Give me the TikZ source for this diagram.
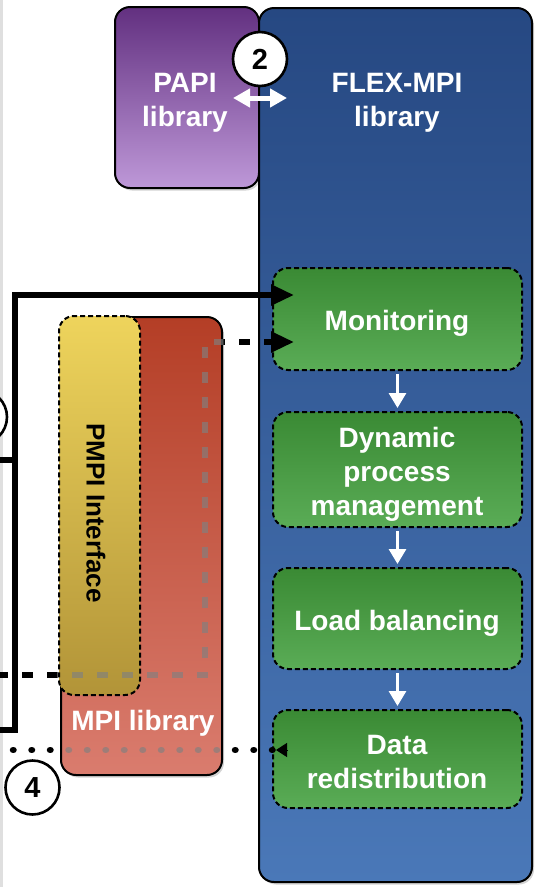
\documentclass[tikz,border=0pt]{standalone}
\usepackage{fontspec}
\setmainfont{Liberation Sans}
\usetikzlibrary{arrows.meta,calc,shadows}

\definecolor{papiTop}{RGB}{98,48,128}
\definecolor{papiBot}{RGB}{190,152,216}
\definecolor{flexTop}{RGB}{38,72,130}
\definecolor{flexBot}{RGB}{74,120,184}
\definecolor{stepTop}{RGB}{58,138,52}
\definecolor{stepBot}{RGB}{90,172,86}
\definecolor{mpiTop}{RGB}{180,62,38}
\definecolor{mpiBot}{RGB}{218,124,110}
\definecolor{pmpiTop}{RGB}{238,212,92}
\definecolor{pmpiBot}{RGB}{178,148,56}

\tikzset{
  big/.style={font=\fontsize{28}{34}\selectfont\bfseries, text=white, align=center, inner sep=0pt},
  libbox/.style={draw=black, line width=2pt, rounded corners=15pt, inner sep=0pt,
    drop shadow={shadow xshift=2pt, shadow yshift=-2.5pt, opacity=0.35}},
  stepbox/.style={draw=black, line width=2pt, dash pattern=on 5pt off 3pt,
    rounded corners=15pt, top color=stepTop, bottom color=stepBot,
    minimum width=249pt, inner sep=0pt},
  badge/.style={circle, draw=black, line width=2.6pt, fill=white, minimum size=54pt,
    inner sep=0pt, font=\fontsize{29}{29}\selectfont\bfseries},
  flow/.style={white, line width=3pt, -{Triangle[length=15pt,width=17pt]}},
  wire/.style={line width=5.5pt},
  bigtip/.style={-{Triangle[length=23pt,width=20pt]}},
  dashwire/.style={wire, dash pattern=on 11pt off 14pt, dash phase=3pt},
  dotwire/.style={line width=6.5pt, line cap=round, dash pattern=on 0.5pt off 18pt},
}

\begin{document}
\begin{tikzpicture}[x=1pt,y=-1pt]
\useasboundingbox (0,0) rectangle (538,887);
\clip (0,0) rectangle (538,887);
\fill[gray!25] (0,0) rectangle (2.5,887);

% PAPI and FLEX-MPI libraries
\node[libbox, top color=papiTop, bottom color=papiBot, minimum width=144pt,
      minimum height=181pt] (papi) at (187,97.5) {};
\node[big] (papilbl) at (185,102.5) {PAPI\\library};
\node[libbox, top color=flexTop, bottom color=flexBot, minimum width=273pt,
      minimum height=874pt] (flex) at (395.5,445) {};
\node[big] (flexlbl) at (397,103) {FLEX-MPI\\library};

% FLEX-MPI stages
\node[stepbox, minimum height=102pt] (mon) at (397.5,319) {};
\node[stepbox, minimum height=115pt] (dyn) at (397.5,469.5) {};
\node[stepbox, minimum height=101pt] (lb)  at (397.5,618.5) {};
\node[stepbox, minimum height=98pt]  (dr)  at (397.5,759) {};
\node[big] (monlbl) at (397,323) {Monitoring};
\node[big] (dynlbl) at (397,474) {Dynamic\\process\\management};
\node[big] (lblbl)  at (397,623.5) {Load balancing};
\node[big] (drlbl)  at (397,761.5) {Data\\redistribution};

\draw[flow, shorten <=3pt, shorten >=3pt] (mon) -- (dyn);
\draw[flow, shorten <=3pt, shorten >=3pt] (dyn) -- (lb);
\draw[flow, shorten <=3pt, shorten >=3pt] (lb) -- (dr);

% incoming connectors
\coordinate (inTop)  at (0,730);
\coordinate (inMid)  at (0,460);
\coordinate (inDash) at (0,675);
\coordinate (inDot)  at (13,750);
\coordinate (tapA) at ($(mon.west)+(22,-24)$);
\coordinate (tapB) at ($(mon.west)+(22,23)$);
\coordinate (tapC) at ($(dr.west)+(15,-9)$);

\draw[wire, bigtip] (inTop) -- ++(15,0) |- (tapA);
\draw[wire] (inMid) -- ++(15,0);
\draw[dashwire, bigtip] (inDash) -- ++(205,0) |- (tapB);
\draw[dotwire] (inDot) -- (tapC);
\draw[line width=1pt, -{Triangle[length=11pt,width=14pt]}] (tapC) -- ++(-11,0);

% MPI library with PMPI interface
\node[libbox, top color=mpiTop, bottom color=mpiBot, minimum width=161pt,
      minimum height=458pt] (mpi) at (141.5,546) {};
\node[draw=black, line width=2pt, dash pattern=on 5pt off 3pt, rounded corners=15pt,
      top color=pmpiTop, bottom color=pmpiBot, minimum width=81pt, minimum height=379pt,
      inner sep=0pt] (pmpi) at (99.5,505.5) {};
\node[rotate=-90, font=\fontsize{26}{26}\selectfont\bfseries] (pmpilbl) at (96,513) {PMPI Interface};
\node[big] (mpilbl) at (143,723) {MPI library};

% connectors seen through the MPI library
\begin{scope}
  \clip[rounded corners=15pt] ($(mpi.north west)+(-3,0)$) rectangle (mpi.south east);
  \draw[dashwire, gray, opacity=0.65] (inDash) -- ++(205,0) |- (tapB);
  \draw[dotwire, gray, opacity=0.65] (inDot) -- (tapC);
\end{scope}

% step badges
\node[badge] (b2) at (260,59) {2};
\node[badge] (b4) at (32.5,787.5) {4};
\node[badge] (b3) at (-20,417) {};

\draw[white, line width=5pt, {Triangle[length=17pt,width=18pt]}-{Triangle[length=17pt,width=18pt]}]
  ($(papi.east)+(-27,0.5)$) -- ($(papi.east)+(27,0.5)$);
\end{tikzpicture}
\end{document}
